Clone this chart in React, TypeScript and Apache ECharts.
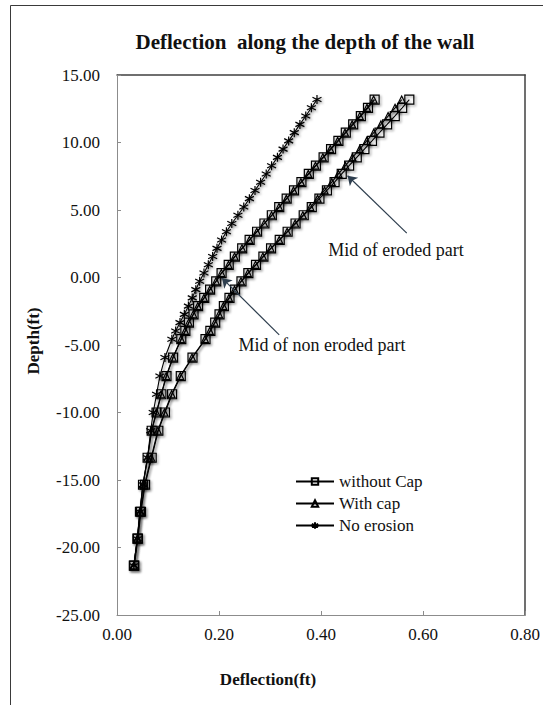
import React, { useEffect, useRef } from "react";
import * as echarts from "echarts";

// Depth of each node along the wall (ft)
const depths = [
  13.18, 12.57, 11.96, 11.34, 10.73, 10.12, 9.51, 8.9, 8.28, 7.67, 7.06, 6.45,
  5.84, 5.22, 4.61, 4.0, 3.39, 2.78, 2.16, 1.55, 0.94, 0.33, -0.28, -0.9,
  -1.51, -2.12, -2.73, -3.34, -3.96, -4.57, -5.93, -7.3, -8.65, -10.0,
  -11.35, -13.35, -15.35, -17.35, -19.35, -21.35,
];

// Deflection (ft) at the mid of the eroded part, wall without cap
const erodedWithoutCap = [
  0.573, 0.559, 0.5445, 0.5295, 0.5145, 0.4998, 0.485, 0.47, 0.455, 0.4405,
  0.4265, 0.4115, 0.3968, 0.3818, 0.366, 0.35, 0.3345, 0.319, 0.302, 0.287,
  0.2725, 0.2575, 0.244, 0.2315, 0.2205, 0.2095, 0.201, 0.1925, 0.183, 0.1735,
  0.148, 0.125, 0.108, 0.094, 0.081, 0.068, 0.055, 0.047, 0.041, 0.034,
];

// Deflection (ft) at the mid of the eroded part, wall with cap
const erodedWithCap = [
  0.558, 0.545, 0.5314, 0.5174, 0.5033, 0.4895, 0.4757, 0.4616, 0.4476, 0.434,
  0.421, 0.4069, 0.3932, 0.3791, 0.3643, 0.3492, 0.3335, 0.318, 0.301, 0.286,
  0.2715, 0.2565, 0.243, 0.2305, 0.2195, 0.2085, 0.2, 0.1915, 0.182, 0.1725,
  0.147, 0.124, 0.107, 0.093, 0.08, 0.067, 0.054, 0.046, 0.04, 0.033,
];

// Deflection (ft) at the mid of the non eroded part, wall without cap
const nonErodedWithoutCap = [
  0.505, 0.492, 0.478, 0.463, 0.4485, 0.434, 0.4196, 0.405, 0.39, 0.376,
  0.3615, 0.347, 0.3326, 0.318, 0.3035, 0.289, 0.2746, 0.26, 0.2454, 0.231,
  0.219, 0.205, 0.1945, 0.1825, 0.171, 0.159, 0.15, 0.141, 0.134, 0.126, 0.11,
  0.097, 0.087, 0.0775, 0.068, 0.06, 0.051, 0.045, 0.04, 0.033,
];

// Deflection (ft) at the mid of the non eroded part, wall with cap
const nonErodedWithCap = [
  0.503, 0.49, 0.476, 0.461, 0.447, 0.4325, 0.418, 0.4035, 0.389, 0.375,
  0.3605, 0.346, 0.332, 0.3175, 0.303, 0.2885, 0.274, 0.2595, 0.245, 0.2305,
  0.2185, 0.2045, 0.194, 0.182, 0.1705, 0.1585, 0.1495, 0.1405, 0.1335, 0.1255,
  0.1095, 0.0965, 0.0865, 0.077, 0.0675, 0.0597, 0.0507, 0.0448, 0.0398, 0.0328,
];

// Deflection (ft) of the wall with no erosion
const noErosion = [
  0.392, 0.381, 0.37, 0.3585, 0.3475, 0.3365, 0.3255, 0.3145, 0.303, 0.2925,
  0.2815, 0.2705, 0.2595, 0.2485, 0.237, 0.225, 0.2145, 0.205, 0.196, 0.1875,
  0.179, 0.1705, 0.162, 0.1545, 0.1475, 0.14, 0.132, 0.1235, 0.115, 0.1075,
  0.094, 0.084, 0.0775, 0.071, 0.066, 0.06, 0.051, 0.045, 0.04, 0.033,
];

const xTickValues = [0, 0.2, 0.4, 0.6, 0.8];
const yTickValues = [-25, -20, -15, -10, -5, 0, 5, 10, 15];

const legendNames = ["without Cap", "With cap", "No erosion"];

const SERIF = "'Liberation Serif', 'Times New Roman', serif";
const ASTERISK = "path://M5,0L5,10M0.67,2.5L9.33,7.5M0.67,7.5L9.33,2.5";

const toPairs = (xs: number[]) => depths.map((d, i) => [xs[i], d]);

const shadow = {
  shadowBlur: 2,
  shadowColor: "rgba(0,0,0,0.4)",
  shadowOffsetX: 1.5,
  shadowOffsetY: 1.5,
};

function curve(name: string, values: number[], symbol: string, size: number) {
  return {
    type: "line",
    name,
    data: toPairs(values),
    symbol,
    symbolSize: size,
    showAllSymbol: true,
    lineStyle: { color: "#000", width: 1.1, ...shadow },
    itemStyle: {
      color: "rgba(0,0,0,0)",
      borderColor: "#000",
      borderWidth: 1.2,
      ...shadow,
    },
    emphasis: { disabled: true },
    z: 3,
  };
}

export default function App() {
  const ref = useRef<HTMLDivElement>(null);

  useEffect(() => {
    if (!ref.current) return;
    const chart = echarts.init(ref.current, null, { renderer: "svg" });

    const axisText = { fontFamily: SERIF, fontSize: 17, color: "#111" };

    const arrowSeries = {
      ...curve(legendNames[2], noErosion, ASTERISK, 9),
      markLine: {
        silent: true,
        animation: false,
        symbol: ["none", "arrow"],
        symbolSize: 9,
        label: { show: false },
        lineStyle: { color: "#2e3e4e", width: 1.2, type: "solid" },
        data: [
          [{ coord: [0.568, 3.29] }, { coord: [0.452, 7.54] }],
          [{ coord: [0.318, -4.25] }, { coord: [0.206, -0.05] }],
        ],
      },
    };

    const plainText = (text: string, x: number, y: number, font: string, rotation = 0) => ({
      type: "text",
      x,
      y,
      rotation,
      silent: true,
      style: {
        text,
        font,
        fill: "#111",
        textAlign: "center",
        textVerticalAlign: "middle",
      },
    });

    chart.setOption({
      animation: false,
      backgroundColor: "#fff",
      grid: { left: 117, right: 16, top: 75, bottom: 90 },
      xAxis: [
        {
          type: "value",
          min: xTickValues[0],
          max: xTickValues[xTickValues.length - 1],
          interval: xTickValues[1] - xTickValues[0],
          axisLine: { show: true, onZero: false, lineStyle: { color: "#8c8c8c", width: 1 } },
          axisTick: { show: true, inside: true, length: 4, lineStyle: { color: "#8c8c8c" } },
          splitLine: { show: false },
          axisLabel: {
            ...axisText,
            margin: 11,
            formatter: (v: number) => v.toFixed(2),
          },
        },
        {
          type: "value",
          position: "top",
          min: xTickValues[0],
          max: xTickValues[xTickValues.length - 1],
          axisLine: { show: true, onZero: false, lineStyle: { color: "#404040", width: 1.5 } },
          axisTick: { show: false },
          axisLabel: { show: false },
          splitLine: { show: false },
        },
      ],
      yAxis: [
        {
          type: "value",
          min: yTickValues[0],
          max: yTickValues[yTickValues.length - 1],
          interval: yTickValues[1] - yTickValues[0],
          axisLine: { show: true, onZero: false, lineStyle: { color: "#8c8c8c", width: 1 } },
          axisTick: { show: true, inside: true, length: 4, lineStyle: { color: "#8c8c8c" } },
          splitLine: { show: false },
          axisLabel: {
            ...axisText,
            margin: 17,
            formatter: (v: number) => v.toFixed(2),
          },
        },
        {
          type: "value",
          position: "right",
          min: yTickValues[0],
          max: yTickValues[yTickValues.length - 1],
          axisLine: { show: true, onZero: false, lineStyle: { color: "#404040", width: 1.5 } },
          axisTick: { show: false },
          axisLabel: { show: false },
          splitLine: { show: false },
        },
      ],
      legend: {
        data: legendNames,
        orient: "vertical",
        left: 290,
        top: 468,
        itemWidth: 38,
        itemHeight: 8,
        itemGap: 5,
        selectedMode: false,
        textStyle: { fontFamily: SERIF, fontSize: 17, color: "#111", lineHeight: 16 },
      },
      series: [
        arrowSeries,
        curve(legendNames[0], nonErodedWithoutCap, "rect", 9),
        curve(legendNames[1], nonErodedWithCap, "triangle", 7),
        curve(legendNames[0], erodedWithoutCap, "rect", 9),
        curve(legendNames[1], erodedWithCap, "triangle", 7),
      ],
      graphic: [
        {
          type: "rect",
          silent: true,
          shape: { x: 10.5, y: 5.5, width: 700, height: 900 },
          style: { fill: "none", stroke: "#3a3a3a", lineWidth: 1 },
        },
        plainText("Deflection  along the depth of the wall", 305, 42, `bold 21px ${SERIF}`),
        plainText("Deflection(ft)", 268, 679, `bold 17px ${SERIF}`),
        plainText("Depth(ft)", 33, 341, `bold 17px ${SERIF}`, Math.PI / 2),
        plainText("Mid of eroded part", 396, 250, `18px ${SERIF}`),
        plainText("Mid of non eroded part", 322, 345, `18px ${SERIF}`),
      ],
    });

    return () => chart.dispose();
  }, []);

  return (
    <div
      ref={ref}
      style={{
        position: "absolute",
        left: 0,
        top: 0,
        width: 543,
        height: 705,
        background: "#fff",
      }}
    />
  );
}
